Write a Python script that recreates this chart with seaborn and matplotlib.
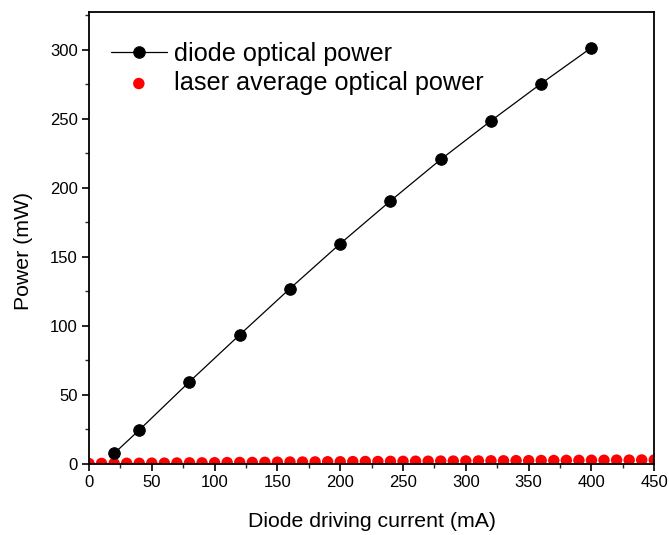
import numpy as np
import pandas as pd
import seaborn as sns
import matplotlib
matplotlib.use("Agg")
import matplotlib.pyplot as plt
from matplotlib.ticker import MultipleLocator

diode_current = [20, 40, 80, 120, 160, 200, 240, 280, 320, 360, 400]
diode_power = [7.5, 24.5, 59.5, 93.5, 127, 159.5, 190.5, 220.5, 248.5, 275.5, 301.5]

laser_current = list(range(0, 451, 10))
laser_power = [0.2, 0.3, 0.3, 0.4, 0.4, 0.5, 0.5, 0.6, 0.7, 0.7,
               0.8, 0.9, 1.0, 1.0, 1.1, 1.2, 1.3, 1.3, 1.4, 1.5,
               1.5, 1.6, 1.7, 1.7, 1.8, 1.8, 1.9, 1.9, 2.0, 2.0,
               2.1, 2.1, 2.2, 2.2, 2.3, 2.3, 2.4, 2.4, 2.5, 2.5,
               2.6, 2.6, 2.7, 2.7, 2.8, 2.8]

sns.set_theme(style="ticks")
plt.rcParams['font.family'] = ['Liberation Sans', 'DejaVu Sans']
plt.rcParams['text.color'] = 'black'
plt.rcParams['axes.labelcolor'] = 'black'

fig, ax = plt.subplots(figsize=(6.69, 5.35), dpi=100)
fig.subplots_adjust(left=0.133, right=0.978, top=0.978, bottom=0.133)

df_d = pd.DataFrame({"x": diode_current, "y": diode_power})
df_l = pd.DataFrame({"x": laser_current, "y": laser_power})

sns.scatterplot(data=df_l, x="x", y="y", ax=ax, color="#ff0000", s=68,
                edgecolor="none", label="laser average optical power", zorder=2)
sns.lineplot(data=df_d, x="x", y="y", ax=ax, color="black", linewidth=0.9,
             marker="o", markersize=8.3, markeredgecolor="black",
             label="diode optical power", zorder=3)

ax.set_xlim(0, 450)
ax.set_ylim(0, 327.5)
ax.xaxis.set_major_locator(MultipleLocator(50))
ax.xaxis.set_minor_locator(MultipleLocator(25))
ax.yaxis.set_major_locator(MultipleLocator(50))
ax.yaxis.set_minor_locator(MultipleLocator(25))
ax.tick_params(axis="both", which="major", direction="out", length=5, width=1.2,
               labelsize=12, colors="black", top=False, right=False, pad=3)
ax.tick_params(axis="both", which="minor", direction="out", length=3, width=1.0,
               top=False, right=False)
for sp in ax.spines.values():
    sp.set_visible(True)
    sp.set_linewidth(1.3)
    sp.set_color("black")
    sp.set_zorder(5)

ax.set_xlabel("Diode driving current (mA)", fontsize=15.3, va="center")
ax.set_ylabel("Power (mW)", fontsize=15.3, va="center")
ax.xaxis.set_label_coords(0.501, -0.128)
ax.yaxis.set_label_coords(-0.115, 0.471)

handles, labels = ax.get_legend_handles_labels()
order = [labels.index("diode optical power"), labels.index("laser average optical power")]
leg = ax.legend([handles[i] for i in order], [labels[i] for i in order],
                loc="upper left", bbox_to_anchor=(0.039, 0.934), frameon=False,
                fontsize=18.2, handlelength=2.2, handletextpad=0.3, labelspacing=0.22,
                borderaxespad=0, borderpad=0, markerscale=1.0)

fig.savefig("out.png", dpi=100)
